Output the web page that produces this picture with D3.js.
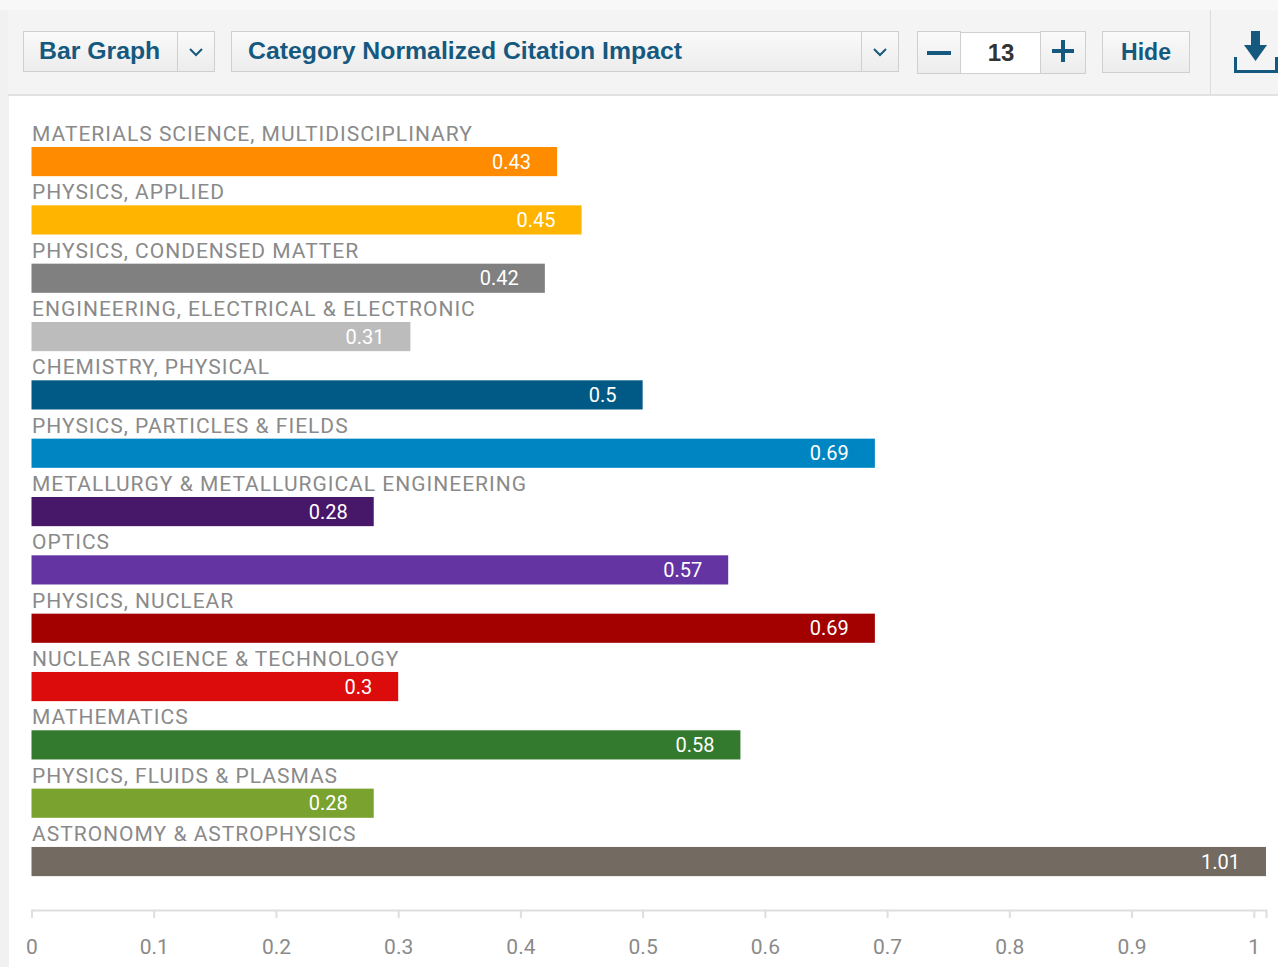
<!DOCTYPE html>
<html><head><meta charset="utf-8">
<script src="https://cdn.jsdelivr.net/npm/d3@7"></script>
<style>
html,body{margin:0;padding:0;background:#fff;overflow:hidden;}
svg{display:block;}
</style></head>
<body>
<script>
const categories = [
  "MATERIALS SCIENCE, MULTIDISCIPLINARY",
  "PHYSICS, APPLIED",
  "PHYSICS, CONDENSED MATTER",
  "ENGINEERING, ELECTRICAL & ELECTRONIC",
  "CHEMISTRY, PHYSICAL",
  "PHYSICS, PARTICLES & FIELDS",
  "METALLURGY & METALLURGICAL ENGINEERING",
  "OPTICS",
  "PHYSICS, NUCLEAR",
  "NUCLEAR SCIENCE & TECHNOLOGY",
  "MATHEMATICS",
  "PHYSICS, FLUIDS & PLASMAS",
  "ASTRONOMY & ASTROPHYSICS"
];
const values = [0.43, 0.45, 0.42, 0.31, 0.5, 0.69, 0.28, 0.57, 0.69, 0.3, 0.58, 0.28, 1.01];
const colors = ["#ff8c00","#ffb400","#808080","#bcbcbc","#005a85","#0085c3","#47176a","#6534a3","#a30000","#dc0c0c","#337a2e","#79a22f","#736a61"];
const tickValues = [0,0.1,0.2,0.3,0.4,0.5,0.6,0.7,0.8,0.9,1];
const metricLabel = "Category Normalized Citation Impact";
const chartTypeLabel = "Bar Graph";
const countLabel = "13";

const W = 1278, H = 967;
const svg = d3.select("body").append("svg").attr("width", W).attr("height", H);

// page chrome
svg.append("rect").attr("x",0).attr("y",0).attr("width",W).attr("height",H).attr("fill","#fff");
svg.append("rect").attr("x",0).attr("y",0).attr("width",9).attr("height",H).attr("fill","#f1f1f1");
svg.append("rect").attr("x",0).attr("y",0).attr("width",W).attr("height",10).attr("fill","#f8f8f8");
svg.append("rect").attr("x",8).attr("y",10).attr("width",W-8).attr("height",85).attr("fill","#f4f4f4");
svg.append("rect").attr("x",8).attr("y",94).attr("width",W-8).attr("height",2).attr("fill","#e2e2e2");
svg.append("line").attr("x1",1210.5).attr("x2",1210.5).attr("y1",10).attr("y2",94).attr("stroke","#dcdcdc");

const defs = svg.append("defs");
const g1 = defs.append("linearGradient").attr("id","btn").attr("x1",0).attr("x2",0).attr("y1",0).attr("y2",1);
g1.append("stop").attr("offset","0%").attr("stop-color","#fafafa");
g1.append("stop").attr("offset","100%").attr("stop-color","#ececec");

const blue = "#15597f";
const tb = svg.append("g");
function box(x,y,w,h,fill){
  tb.append("rect").attr("x",x+0.5).attr("y",y+0.5).attr("width",w).attr("height",h)
    .attr("fill",fill||"url(#btn)").attr("stroke","#cfcfcf");
}
function chevron(cx,cy){
  tb.append("path").attr("d",`M${cx-6},${cy-3} L${cx},${cy+3} L${cx+6},${cy-3}`)
    .attr("fill","none").attr("stroke",blue).attr("stroke-width",2);
}
box(23,31,191,40);
tb.append("line").attr("x1",177.5).attr("x2",177.5).attr("y1",31).attr("y2",71).attr("stroke","#cfcfcf");
tb.append("text").attr("x",39).attr("y",59).text(chartTypeLabel)
  .attr("font-family","Liberation Sans, Arial, sans-serif").attr("font-weight","bold").attr("font-size",24.8).attr("fill",blue);
chevron(196,52);
box(231,31,667,40);
tb.append("line").attr("x1",861.5).attr("x2",861.5).attr("y1",31).attr("y2",71).attr("stroke","#cfcfcf");
tb.append("text").attr("x",248).attr("y",59).text(metricLabel)
  .attr("font-family","Liberation Sans, Arial, sans-serif").attr("font-weight","bold").attr("font-size",24.8).attr("fill",blue);
chevron(880,52);
box(917,31,43,42);
box(960,32,80,41,"#fff");
box(1040,31,45,42);
tb.append("rect").attr("x",927).attr("y",51).attr("width",24).attr("height",4).attr("fill",blue);
tb.append("rect").attr("x",1052).attr("y",49).attr("width",22).attr("height",4).attr("fill",blue);
tb.append("rect").attr("x",1061).attr("y",40).attr("width",4).attr("height",22).attr("fill",blue);
tb.append("text").attr("x",1001).attr("y",61).attr("text-anchor","middle").text(countLabel)
  .attr("font-family","Liberation Sans, Arial, sans-serif").attr("font-weight","bold").attr("font-size",24).attr("fill","#333");
box(1102,31,87,41);
tb.append("text").attr("x",1146).attr("y",60).attr("text-anchor","middle").text("Hide")
  .attr("font-family","Liberation Sans, Arial, sans-serif").attr("font-weight","bold").attr("font-size",23).attr("fill",blue);
// download icon
tb.append("rect").attr("x",1251).attr("y",31).attr("width",9).attr("height",17).attr("fill",blue);
tb.append("path").attr("d","M1244,45 L1267,45 L1255.5,61 Z").attr("fill",blue);
tb.append("path").attr("d","M1235.5,57 V71.5 H1276.5 V57").attr("fill","none").attr("stroke",blue).attr("stroke-width",3);

// chart
const x = d3.scaleLinear().domain([0, 1.01]).range([31.5, 1266]);
const step = 58.33;
const y = d3.scaleBand().domain(categories).range([147, 147 + 12.5*step]).paddingInner(0.5).paddingOuter(0);

const rows = svg.append("g").selectAll("g").data(categories).join("g");
rows.append("text")
  .attr("x", x(0) + 0.5).attr("y", d => y(d) - 6)
  .text(d => d)
  .attr("font-family","Roboto, sans-serif").attr("font-size",21).attr("fill","#8a8a8a")
  .attr("letter-spacing","1");
rows.append("rect")
  .attr("x", x(0)).attr("y", d => y(d))
  .attr("width", (d,i) => x(values[i]) - x(0)).attr("height", y.bandwidth())
  .attr("fill", (d,i) => colors[i]);
rows.append("text")
  .attr("x", (d,i) => x(values[i]) - 26).attr("y", d => y(d) + y.bandwidth()/2 + 7)
  .attr("text-anchor","end").text((d,i) => values[i])
  .attr("font-family","Roboto, sans-serif").attr("font-size",20).attr("fill","#fff");

const axis = d3.axisBottom(x).tickValues(tickValues).tickSize(8).tickSizeOuter(8).tickPadding(21)
  .tickFormat(d => d3.format("~g")(d));
const ax = svg.append("g").attr("transform","translate(0,910)").call(axis);
ax.select(".domain").attr("stroke","#dedede").attr("stroke-width",2);
ax.selectAll(".tick line").attr("stroke","#dedede").attr("stroke-width",2);
ax.selectAll(".tick text").attr("font-family","Roboto, sans-serif").attr("font-size",21).attr("fill","#8a8a8a");
</script>
</body></html>
